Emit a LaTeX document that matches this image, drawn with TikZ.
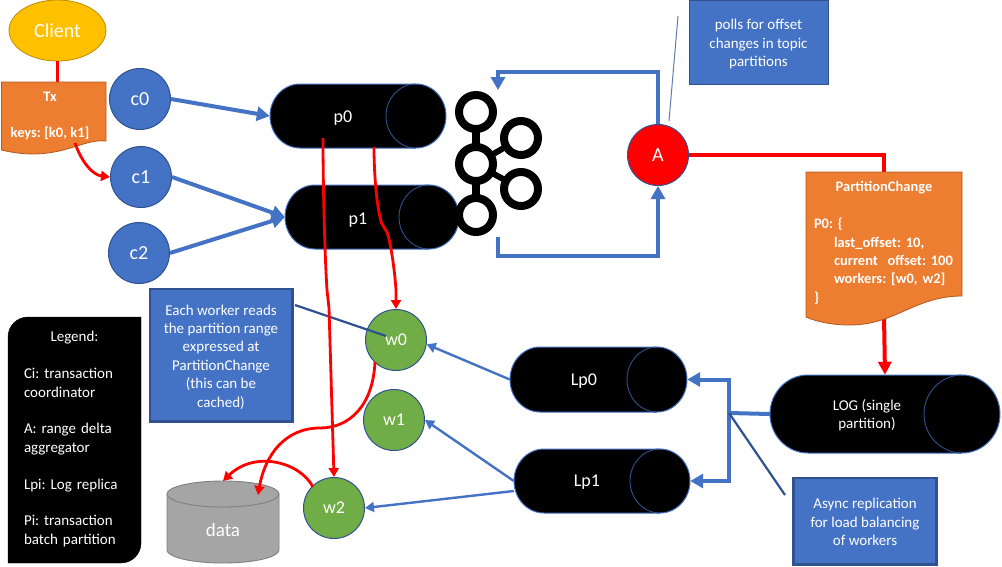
\documentclass[tikz,border=0pt]{standalone}
\usepackage{fontspec}
\setmainfont{Carlito}
\usetikzlibrary{arrows.meta,shapes.geometric}
\definecolor{cblue}{HTML}{4472C4}
\definecolor{cdark}{HTML}{2F528F}
\definecolor{corange}{HTML}{ED7D31}
\definecolor{corangeD}{HTML}{AE5A21}
\definecolor{cgreen}{HTML}{70AD47}
\definecolor{cgold}{HTML}{FFC000}
\definecolor{cgoldD}{HTML}{BC8C00}
\definecolor{cgray}{HTML}{A5A5A5}
\definecolor{cgrayD}{HTML}{7F7F7F}
\newcommand{\fs}[1]{\fontsize{#1}{18.4}\selectfont}
\frenchspacing
\tikzset{
  x=1pt,y=-1pt,
  lab/.style={text=white,inner sep=0pt,align=center},
  round node/.style={circle,inner sep=0pt,minimum size=61pt,line width=1pt,text=white,font=\fs{18}},
  coord/.style={round node,fill=cblue,draw=cdark,font=\fs{20}},
  worker/.style={round node,fill=cgreen,draw=cdark},
  infobox/.style={rectangle,fill=cblue,text=white,align=center,inner sep=0pt,font=\fs{15}},
  boxframe/.style={draw=cdark,line width=2.6pt},
  canshape/.style={fill=black,draw=cblue,line width=1pt},
  caninner/.style={draw=cdark,line width=.9pt},
  bigflow/.style={draw=cblue,line width=4pt,-{Triangle[length=13pt,width=14pt]}},
  plainflow/.style={draw=cblue,line width=4pt},
  thinflow/.style={draw=cblue,line width=2.4pt,-{Triangle[length=9pt,width=10pt]}},
  redflow/.style={draw=red,line width=2.8pt,-{Triangle[length=9pt,width=10pt]}},
  redplain/.style={draw=red,line width=2.8pt},
  redbig/.style={draw=red,line width=4pt},
  note/.style={draw=cdark,line width=2.2pt},
  docshape/.style={fill=corange,draw=corangeD,line width=.8pt},
  doctext/.style={text=white,inner sep=0pt,align=left,font=\bfseries\fs{14.5}},
}
\newcommand{\mkcan}[7]{%
  \pgfmathsetmacro{\cxa}{#2+#6}\pgfmathsetmacro{\cxb}{#4-#6}%
  \pgfmathsetmacro{\cry}{(#5-#3)/2}%
  \pgfmathsetmacro{\ccx}{(#2+#4)/2}\pgfmathsetmacro{\ccy}{(#3+#5)/2}%
  \pgfmathsetmacro{\cw}{#4-#2}\pgfmathsetmacro{\ch}{#5-#3}%
  \draw[canshape] (\cxa,#3) -- (\cxb,#3) arc[start angle=-90,end angle=90,x radius=#6,y radius=\cry]
     -- (\cxa,#5) arc[start angle=90,end angle=270,x radius=#6,y radius=\cry] -- cycle;
  \draw[caninner] (\cxb,#3) arc[start angle=270,end angle=90,x radius=#6,y radius=\cry];
  \node[rectangle,inner sep=0pt,minimum width=\cw pt,minimum height=\ch pt] (#1) at (\ccx,\ccy) {};
}
\begin{document}
\begin{tikzpicture}
\useasboundingbox (0,0) rectangle (1002,566);
\fill[white] (0,0) rectangle (1002,566);

% Kafka logo
\draw[line width=8pt] (476,112) -- (476,215);
\draw[line width=6pt] (476,164) -- (521,138) (476,164) -- (521,189);

% Partitions
\mkcan{p0}{270}{84}{446}{148}{30}{}
\node[lab,font=\fs{18}] at (343,118) {p0};
\mkcan{p1}{285}{185}{459}{249}{30}{}
\node[lab,font=\fs{18}] at (358,220) {p1};

\foreach \lx/\ly in {476/112,476/164,476/215,521/138,521/189}
  \draw[line width=8pt,fill=white] (\lx,\ly) circle[radius=17pt];

% Replicas
\mkcan{Lp0}{510}{347}{687}{412}{30}{}
\node[lab,font=\fs{18}] at (584,381) {Lp0};
\mkcan{Lp1}{514}{449}{690}{513}{30}{}
\node[lab,font=\fs{18}] at (587,482) {Lp1};
\mkcan{LOG}{770}{375}{1000}{453}{38}{}
\node[lab,font=\fs{15}] at (867,415) {LOG (single\\partition)};

% Client and transaction
\node[ellipse,minimum width=97pt,minimum height=61pt,inner sep=0pt,fill=cgold,draw=cgoldD,line width=.8pt,text=white,font=\fs{20}] (client) at (57.5,30.5) {Client};
\node[rectangle,minimum width=104.5pt,minimum height=59pt,inner sep=0pt] (tx) at (53.75,111.5) {};
\draw[redplain] (client.south) -- (client.south |- tx.north);
\draw[docshape] (1.5,82) -- (106,82) -- (106,141) .. controls (85,139) and (70,153) .. (35,154) .. controls (20,154) and (10,152) .. (1.5,150) -- cycle;
\node[doctext,align=center] (txtext) at (50,116) {Tx\\[18.4pt]keys: [k0, k1]};

\node[coord] (c0) at (140,99) {c0};
\node[coord] (c1) at (141,177) {c1};
\node[coord] (c2) at (139,253) {c2};

\coordinate (txout) at (75,143);
\draw[redflow] (txout) .. controls (82,163) and (93,175) .. (c1.west);

\draw[bigflow] (c0.east) -- (p0.west);
\draw[bigflow] (c1.east) -- (p1.west);
\draw[bigflow] (c2.east) -- (p1.west);

% Aggregator
\node[round node,fill=red,draw=cdark,font=\fs{20}] (A) at (658,155) {A};
\coordinate (kin) at (498,90);
\coordinate (ktop) at (498,72);
\coordinate (kout) at (498,237);
\coordinate (kbot) at (498,256);
\draw[bigflow] (A.north) |- (ktop) -- (kin);
\draw[bigflow] (kout) -- (kbot) -| (A.south);

\node[infobox,minimum width=139pt,minimum height=84pt,draw=cdark,line width=.8pt] (polls) at (758.5,42) {};
\node[lab,font=\fs{15}] (pollstext) at (758.5,44) {polls for offset\\changes in topic\\partitions};
\coordinate (pollsend) at (678,16);
\coordinate (pollsA) at (669,121);
\draw[draw=cdark!75,line width=1pt] (pollsend) -- (pollsA);

% PartitionChange
\node[rectangle,minimum width=156pt,minimum height=144pt,inner sep=0pt] (pc) at (884,244) {};
\draw[redbig] (A.east) -| (pc.north);
\draw[redbig,-{Triangle[length=13pt,width=13pt]}] (pc.south) -- (LOG.north);
\draw[docshape] (806,172) -- (962,172) -- (962,296) .. controls (915,296) and (895,325) .. (850,325) .. controls (830,325) and (815,321) .. (806,317) -- cycle;
\node[doctext,text width=140pt] (pctext) at (884,243) {\makebox[\linewidth][c]{PartitionChange}\\[18.4pt]P0: \{\\\hspace*{20pt}last\_offset: 10,\\\hspace*{20pt}current\ \ offset: 100\\\hspace*{20pt}workers: [w0, w2]\\\}};

% Workers
\node[worker] (w0) at (396,340) {w0};
\node[worker] (w1) at (394,420) {w1};
\node[worker] (w2) at (334,508) {w2};

\draw[thinflow] (Lp0.west) -- (w0.-8);
\draw[thinflow] (Lp1.west) -- (w1.east);
\draw[thinflow] ([yshift=-10pt]Lp1.west) -- (w2.east);

\coordinate (jun) at (729,413);
\draw[plainflow] (LOG.west) -- (jun);
\draw[bigflow] (jun) |- (Lp0.east);
\draw[bigflow] (jun) |- (Lp1.east);

% Notes
\node[infobox,minimum width=142pt,minimum height=132pt] (each) at (221,355) {};
\node[lab,font=\fs{15}] (eachtext) at (221,357) {Each worker reads\\the partition range\\expressed at\\PartitionChange\\(this can be\\cached)};
\draw[boxframe] (each.north west) rectangle (each.south east);
\coordinate (eachout) at (295,305);
\draw[note] (eachout) -- (386,336);

\node[infobox,minimum width=143pt,minimum height=86pt] (async) at (865,521) {};
\node[lab,font=\fs{15}] (asynctext) at (865,522) {Async replication\\for load balancing\\of workers};
\draw[boxframe] (async.north west) rectangle (async.south east);
\coordinate (asyncend) at (785,495);
\draw[note] (jun) -- (asyncend);

% Data store
\fill[cgray] (167,494) -- (167,550) arc[start angle=180,end angle=0,x radius=56,y radius=13] -- (279,494) arc[start angle=0,end angle=-180,x radius=56,y radius=13] -- cycle;
\draw[cgrayD,line width=.9pt] (167,494) -- (167,550) arc[start angle=180,end angle=0,x radius=56,y radius=13] -- (279,494);
\draw[cgrayD,line width=.9pt,fill=cgray] (223,494) ellipse[x radius=56,y radius=13];
\node[rectangle,minimum width=112pt,minimum height=82pt,inner sep=0pt,text=white,font=\fs{19}] (data) at (223,522) {};
\node[lab,font=\fs{19}] at (223,530) {data};

% Red data paths
\coordinate (p0a) at (323,138);
\coordinate (p0b) at (374,147);
\coordinate (w0c) at (375,362);
\coordinate (w2c) at (313,487);
\draw[redflow] (p0a) .. controls (323,190) and (325,260) .. (327,290) -- (329,308) -- (w2.north);
\draw[redflow] (p0b) .. controls (374,170) and (376,200) .. (380,217) .. controls (382,228) and (385,226) .. (388,235) .. controls (392,250) and (395,275) .. (396,290) -- (w0.north);
\draw[redflow] (w0c) .. controls (373,405) and (350,428) .. (320,428) .. controls (285,428) and (265,455) .. (258,495);
\draw[redflow] (w2c) .. controls (300,462) and (255,450) .. (223,481);

% Legend
\draw[fill=black,draw=black] (8,563) [rounded corners=20pt] -- (8,317) [sharp corners] -- (141,317) [rounded corners=20pt] -- (141,563) [sharp corners] -- cycle;
\node[text=white,inner sep=0pt,align=left,text width=101pt,font=\fs{15}] (legend) at (74.5,439) {\makebox[\linewidth][c]{Legend:}\\[18.4pt]Ci: transaction\\coordinator\\[18.4pt]A: range delta\\aggregator\\[18.4pt]Lpi: Log replica\\[18.4pt]Pi: transaction\\batch partition};
\end{tikzpicture}
\end{document}
